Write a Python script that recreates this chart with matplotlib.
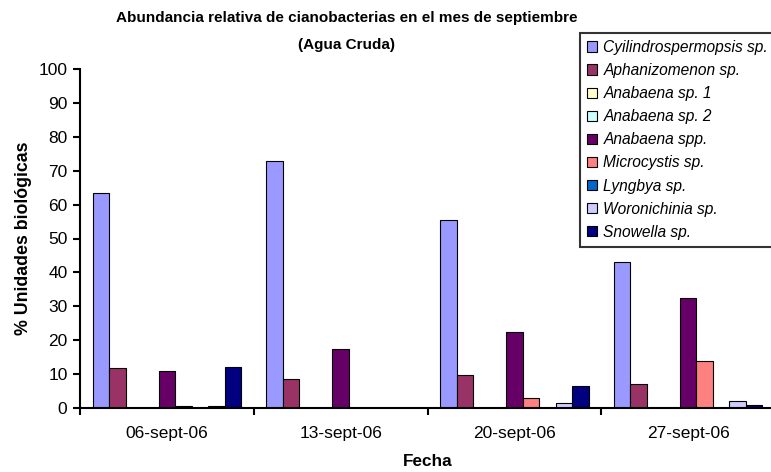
import numpy as np
import matplotlib
matplotlib.use("Agg")
import matplotlib.pyplot as plt

plt.rcParams["font.family"] = ["Liberation Sans", "DejaVu Sans"]

fechas = ["06-sept-06", "13-sept-06", "20-sept-06", "27-sept-06"]
especies = [
    "Cyilindrospermopsis sp.",
    "Aphanizomenon sp.",
    "Anabaena sp. 1",
    "Anabaena sp. 2",
    "Anabaena spp.",
    "Microcystis sp.",
    "Lyngbya sp.",
    "Woronichinia sp.",
    "Snowella sp.",
]

# % de unidades biológicas por especie y fecha
cylindrospermopsis = [63.5, 72.9, 55.5, 43.2]
aphanizomenon = [11.7, 8.7, 9.7, 7.1]
anabaena_1 = [0.0, 0.0, 0.0, 0.0]
anabaena_2 = [0.0, 0.0, 0.0, 0.0]
anabaena_spp = [11.0, 17.4, 22.4, 32.4]
microcystis = [0.5, 0.0, 2.9, 13.9]
lyngbya = [0.0, 0.0, 0.0, 0.0]
woronichinia = [0.6, 0.0, 1.4, 2.0]
snowella = [12.0, 0.0, 6.6, 0.9]

series = [cylindrospermopsis, aphanizomenon, anabaena_1, anabaena_2,
          anabaena_spp, microcystis, lyngbya, woronichinia, snowella]
colores = ["#9999FF", "#993366", "#FFFFCC", "#CCFFFF", "#660066",
           "#FF8080", "#0066CC", "#CCCCFF", "#000080"]

fig = plt.figure(figsize=(7.71, 4.72), dpi=100)
ax = fig.add_axes([80 / 771, 64 / 472, 695 / 771, 339 / 472])

x = np.arange(len(fechas))
ancho = 0.095
for i, (vals, col, nombre) in enumerate(zip(series, colores, especies)):
    ax.bar(x + (i - 4) * ancho, vals, ancho, color=col, edgecolor="black",
           linewidth=0.8, label=nombre)

ax.set_xlim(-0.5, len(fechas) - 0.5)
ax.set_ylim(0, 100)
ax.set_yticks(np.arange(0, 101, 10))
ax.spines["top"].set_visible(False)
ax.spines["right"].set_visible(False)
ax.spines["left"].set_linewidth(1.5)
ax.spines["bottom"].set_linewidth(1.5)

ax.set_xticks(np.arange(-0.5, len(fechas)), labels=[])
ax.set_xticks(x, labels=fechas, minor=True)
ax.tick_params(axis="x", which="major", length=5, width=1.5, direction="out")
ax.tick_params(axis="x", which="minor", length=0, pad=13, labelsize=12.5)
ax.tick_params(axis="y", length=5, width=1.5, direction="out", pad=4,
               labelsize=12.5)

ax.set_xlabel("Fecha", fontsize=12.3, fontweight="bold", labelpad=9)
ax.set_ylabel("% Unidades biológicas", fontsize=12.8, fontweight="bold",
              labelpad=5)

fig.text(347 / 771, 1 - 18 / 472,
         "Abundancia relativa de cianobacterias en el mes de septiembre",
         ha="center", va="center", fontsize=11, fontweight="bold")
fig.text(347 / 771, 1 - 45 / 472, "(Agua Cruda)",
         ha="center", va="center", fontsize=11, fontweight="bold")

leg = fig.legend(loc="upper left", bbox_to_anchor=(580 / 771, 1 - 33 / 472),
                 frameon=True, fancybox=False, edgecolor="black",
                 prop={"style": "italic", "size": 11.2},
                 handlelength=0.65, handleheight=0.65, handletextpad=0.4,
                 labelspacing=0.52, borderpad=0.45, borderaxespad=0)
leg.get_frame().set_linewidth(1.5)

fig.savefig("out.png", dpi=100)
